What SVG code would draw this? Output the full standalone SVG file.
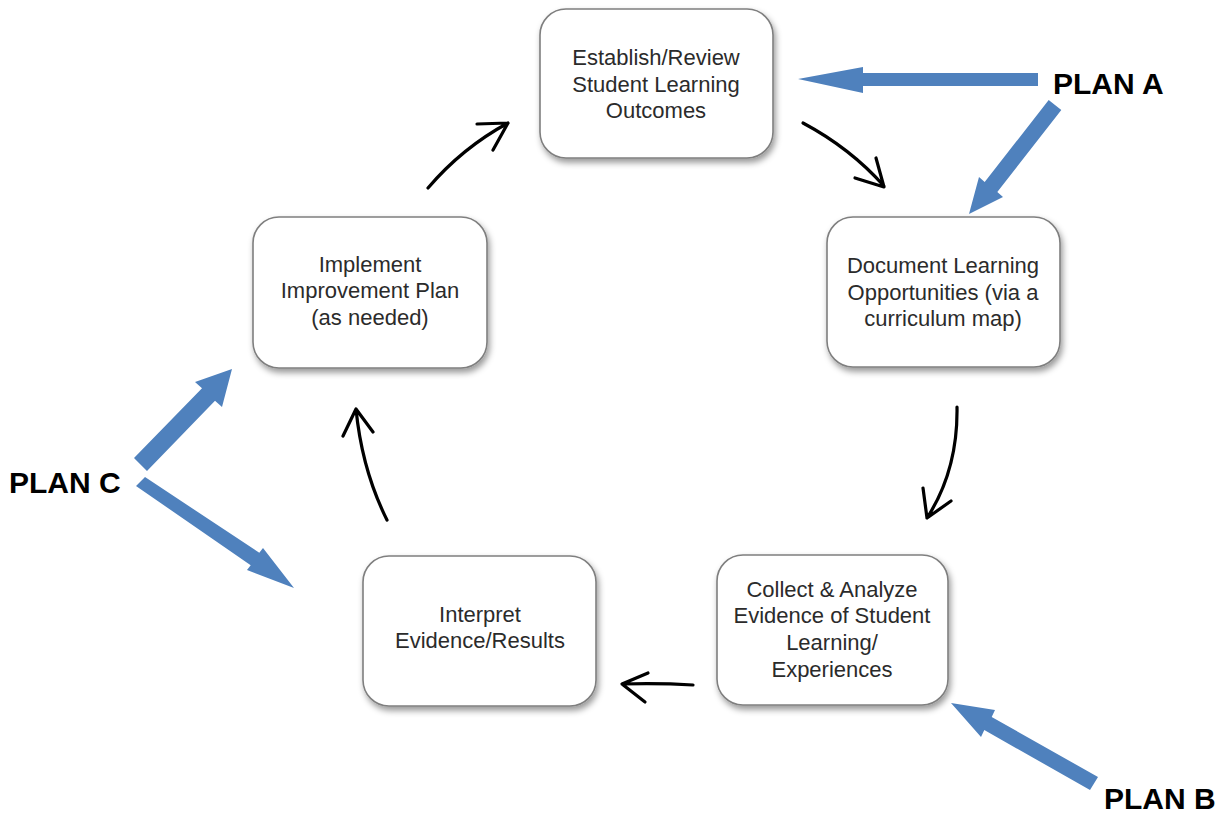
<svg xmlns="http://www.w3.org/2000/svg" width="1225" height="817" viewBox="0 0 1225 817">
<style>
.box{fill:#fff;stroke:#7f7f7f;stroke-width:1.6;filter:url(#sh)}
.t{font-family:"Liberation Sans",Arial,sans-serif;font-size:22px;fill:#2b2b2b;text-anchor:middle}
.plan{font-family:"Liberation Sans",Arial,sans-serif;font-size:30px;font-weight:bold;fill:#000}
.c{fill:none;stroke:#000;stroke-width:3.2;stroke-linecap:round;stroke-linejoin:round}
.b{fill:#4f81bd}
</style>
<defs>
<filter id="sh" x="-10%" y="-10%" width="125%" height="130%">
<feDropShadow dx="2" dy="4" stdDeviation="3" flood-color="#000" flood-opacity="0.4"/>
</filter>
</defs>
<rect width="1225" height="817" fill="#fff"/>
<g id="n1"><rect class="box" x="540" y="9" width="233" height="149" rx="26"/>
<text class="t"><tspan x="656" y="65">Establish/Review</tspan><tspan x="656" y="92">Student Learning</tspan><tspan x="656" y="118">Outcomes</tspan></text></g>
<g id="n2"><rect class="box" x="827" y="217" width="233" height="150" rx="26"/>
<text class="t"><tspan x="943" y="273">Document Learning</tspan><tspan x="943" y="300">Opportunities (via a</tspan><tspan x="943" y="326">curriculum map)</tspan></text></g>
<g id="n3"><rect class="box" x="717" y="555" width="231" height="150" rx="26"/>
<text class="t"><tspan x="832" y="597">Collect &amp; Analyze</tspan><tspan x="832" y="623">Evidence of Student</tspan><tspan x="832" y="650">Learning/</tspan><tspan x="832" y="677">Experiences</tspan></text></g>
<g id="n4"><rect class="box" x="363" y="556" width="233" height="150" rx="26"/>
<text class="t"><tspan x="480" y="622">Interpret</tspan><tspan x="480" y="648">Evidence/Results</tspan></text></g>
<g id="n5"><rect class="box" x="253" y="217" width="234" height="151" rx="26"/>
<text class="t"><tspan x="370" y="272">Implement</tspan><tspan x="370" y="298">Improvement Plan</tspan><tspan x="370" y="325">(as needed)</tspan></text></g>
<g id="connectors">
<path class="c" d="M803,123 Q850,148 884,186 M876,158 L884,187 L855,178"/>
<path class="c" d="M957,407 Q958,470 927,518 M923,488 L927,518 L951,501"/>
<path class="c" d="M693,685 Q660,683 622,684 M648,673 L622,684 L645,702"/>
<path class="c" d="M387,520 Q362,470 356,409 M343,436 L356,409 L373,432"/>
<path class="c" d="M428,188 Q462,148 508,123 M477,124 L508,123 L493,150"/>
</g>
<g id="planA">
<polygon class="b" points="1038,73 863,73 863,67 798,79 863,93 863,86 1038,86"/>
<polygon class="b" points="1048.7,100 1061.3,110 997.3,192 1003,197 969,214 979,177 984.7,182"/>
<text class="plan" x="1053" y="94">PLAN A</text>
</g>
<g id="planB">
<polygon class="b" points="1098,777 991.7,717 995,710 951,703 981,737 984.3,730 1090,790"/>
<text class="plan" x="1104" y="809">PLAN B</text>
</g>
<g id="planC">
<polygon class="b" points="134,458 202,388.3 195,382 232,369 222,407 215,400.7 147,471"/>
<polygon class="b" points="145,477 259.3,552.8 263,548 294,588 247,570 250.7,565.2 136,486"/>
<text class="plan" x="9" y="493">PLAN C</text>
</g>
</svg>
